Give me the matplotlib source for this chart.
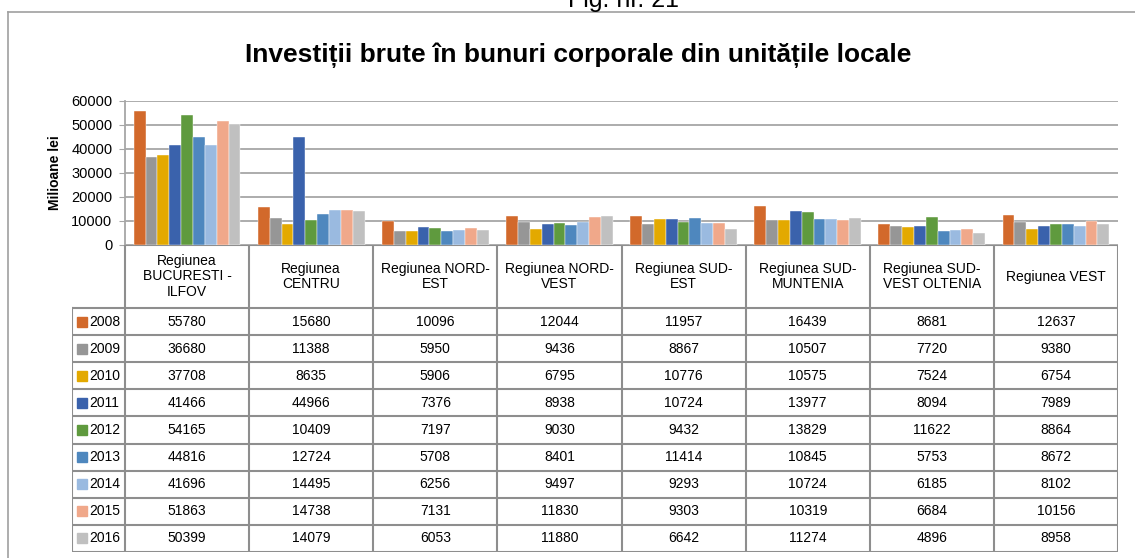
import matplotlib.pyplot as plt
import numpy as np
from matplotlib.lines import Line2D

plt.rcParams['font.family'] = ['Liberation Sans', 'DejaVu Sans']

regions = ['Regiunea\nBUCURESTI -\nILFOV', 'Regiunea\nCENTRU', 'Regiunea NORD-\nEST',
           'Regiunea NORD-\nVEST', 'Regiunea SUD-\nEST', 'Regiunea SUD-\nMUNTENIA',
           'Regiunea SUD-\nVEST OLTENIA', 'Regiunea VEST']
years = ['2008', '2009', '2010', '2011', '2012', '2013', '2014', '2015', '2016']

v2008 = [55780, 15680, 10096, 12044, 11957, 16439, 8681, 12637]
v2009 = [36680, 11388, 5950, 9436, 8867, 10507, 7720, 9380]
v2010 = [37708, 8635, 5906, 6795, 10776, 10575, 7524, 6754]
v2011 = [41466, 44966, 7376, 8938, 10724, 13977, 8094, 7989]
v2012 = [54165, 10409, 7197, 9030, 9432, 13829, 11622, 8864]
v2013 = [44816, 12724, 5708, 8401, 11414, 10845, 5753, 8672]
v2014 = [41696, 14495, 6256, 9497, 9293, 10724, 6185, 8102]
v2015 = [51863, 14738, 7131, 11830, 9303, 10319, 6684, 10156]
v2016 = [50399, 14079, 6053, 11880, 6642, 11274, 4896, 8958]
values = [v2008, v2009, v2010, v2011, v2012, v2013, v2014, v2015, v2016]

colors = ['#D2692B', '#969696', '#E3A900', '#3A62AC', '#5F9A3E',
          '#4E87BE', '#9ABAE0', '#F0A88A', '#C0C0C0']

W, H = 1135, 558
fig = plt.figure(figsize=(W / 100, H / 100), dpi=100)

# cadrul figurii
grid_c = '#A6A6A6'
fig.add_artist(Line2D([8 / W, 1], [1 - 11.5 / H] * 2, color='#A0A0A0', lw=1.2))
fig.add_artist(Line2D([8 / W] * 2, [0, 1 - 11.5 / H], color='#A0A0A0', lw=1.2))

fig.text(623 / W, 1 - 7 / H, 'Fig. nr. 21', ha='center', va='baseline', fontsize=18)
fig.text(578 / W, 1 - 62 / H, 'Investiții brute în bunuri corporale din unitățile locale',
         ha='center', va='baseline', fontsize=19, fontweight='bold')

# graficul cu bare
ax = fig.add_axes([125 / W, (H - 245) / H, 993 / W, 144 / H])
n = len(years)
bw = 0.86 / n
x = np.arange(len(regions))
for i, (yr, vals) in enumerate(zip(years, values)):
    ax.bar(x - 0.43 + bw * (i + 0.5), vals, width=bw, color=colors[i],
           edgecolor='white', linewidth=0.3, zorder=3)
ax.set_xlim(-0.5, len(regions) - 0.5)
ax.set_ylim(0, 60000)
ax.set_yticks(range(0, 60001, 10000))
ax.yaxis.grid(True, color=grid_c, lw=1.3)
ax.set_axisbelow(True)
ax.set_xticks([])
for s in ['top', 'right', 'bottom']:
    ax.spines[s].set_visible(False)
ax.spines['left'].set_color(grid_c)
ax.spines['left'].set_linewidth(1.3)
ax.tick_params(axis='y', length=4, color=grid_c, labelsize=10.5, pad=5)
ax.set_ylabel('Milioane lei', fontsize=10, fontweight='bold')
ax.yaxis.set_label_coords(-63 / 993, 0.5)

# tabelul de date
tb = fig.add_axes([72 / W, (H - 552) / H, (1118 - 72) / W, (552 - 245) / H])
row_h = (552 - 308) / n
hdr = 63 / row_h
xmin = -0.5 - 53 / (993 / len(regions))
tb.set_xlim(xmin, len(regions) - 0.5)
tb.set_ylim(n, -hdr)
tb.axis('off')
line_c = '#8E8E8E'
for r in range(n + 1):
    tb.plot([xmin, len(regions) - 0.5], [r, r], color=line_c, lw=1.5, solid_capstyle='butt')
tb.plot([-0.5, len(regions) - 0.5], [-hdr, -hdr], color=line_c, lw=1.5)
for k in range(len(regions) + 1):
    tb.plot([k - 0.5, k - 0.5], [-hdr, n], color=line_c, lw=1.5)
tb.plot([xmin, xmin], [0, n], color=line_c, lw=1.5)

for k, reg in enumerate(regions):
    tb.text(k, -hdr / 2, reg, ha='center', va='center', fontsize=10, linespacing=1.15)
for i, (yr, vals) in enumerate(zip(years, values)):
    tb.plot(xmin + 0.077, i + 0.5, marker='s', ms=6.5, color=colors[i], ls='none')
    tb.text(xmin + 0.135, i + 0.5, yr, ha='left', va='center', fontsize=10)
    for k, v in enumerate(vals):
        tb.text(k, i + 0.5, str(v), ha='center', va='center', fontsize=10)

fig.savefig('out.png', dpi=100)
